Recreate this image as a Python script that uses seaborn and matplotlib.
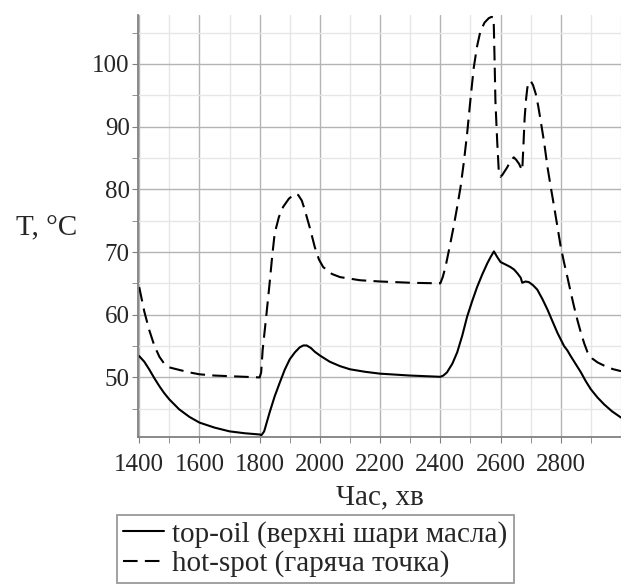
import numpy as np
import pandas as pd
import matplotlib
matplotlib.use("Agg")
import matplotlib.pyplot as plt
from matplotlib.ticker import MultipleLocator
from matplotlib.lines import Line2D
import seaborn as sns

# time, min / temperature, degC
top_oil_t = [1400, 1417, 1433, 1450, 1467, 1483, 1500, 1533, 1567, 1600, 1650, 1700,
             1750, 1800, 1806, 1815, 1833, 1850, 1867, 1883, 1900, 1917, 1933, 1945,
             1956, 1970, 1983, 2000, 2033, 2067, 2100, 2150, 2200, 2300, 2400, 2410,
             2422, 2440, 2456, 2473, 2489, 2506, 2522, 2539, 2556, 2567, 2578, 2589,
             2600, 2617, 2633, 2645, 2656, 2667, 2672, 2683, 2694, 2708, 2722, 2739,
             2756, 2772, 2789, 2811, 2822, 2833, 2850, 2867, 2883, 2900, 2922, 2944,
             2970, 3000]
top_oil_T = [53.4, 52.5, 51.3, 49.9, 48.6, 47.5, 46.5, 44.9, 43.7, 42.8, 42.0, 41.4,
             41.1, 40.9, 40.8, 41.4, 44.4, 47.0, 49.2, 51.2, 52.9, 54.0, 54.8, 55.1,
             55.1, 54.7, 54.1, 53.5, 52.5, 51.8, 51.3, 50.9, 50.6, 50.3, 50.1, 50.3,
             50.8, 52.2, 54.0, 56.7, 59.7, 62.2, 64.4, 66.4, 68.2, 69.2, 70.1, 69.2,
             68.4, 68.0, 67.6, 67.2, 66.6, 65.9, 65.1, 65.3, 65.2, 64.7, 64.0, 62.5,
             60.8, 59.0, 57.1, 55.0, 54.3, 53.4, 52.1, 50.8, 49.4, 48.1, 46.8, 45.7,
             44.6, 43.6]

hot_spot_t = [1400, 1417, 1433, 1450, 1467, 1483, 1500, 1533, 1567, 1600, 1650, 1700,
              1750, 1800, 1805, 1810, 1822, 1833, 1842, 1850, 1864, 1878, 1897, 1917,
              1928, 1940, 1950, 1967, 1983, 1997, 2011, 2040, 2067, 2133, 2200, 2300,
              2400, 2408, 2417, 2430, 2444, 2456, 2467, 2478, 2489, 2500, 2511, 2522,
              2533, 2547, 2561, 2570, 2577, 2580, 2583, 2589, 2594, 2600, 2606, 2614,
              2622, 2633, 2644, 2652, 2661, 2667, 2672, 2676, 2680, 2685, 2689, 2694,
              2700, 2708, 2717, 2725, 2733, 2745, 2756, 2767, 2778, 2789, 2800, 2811,
              2822, 2833, 2844, 2856, 2867, 2878, 2889, 2905, 2922, 2939, 2956, 2975,
              3000]
hot_spot_T = [64.4, 60.5, 57.6, 55.1, 53.3, 52.2, 51.6, 51.2, 50.8, 50.5, 50.3, 50.2,
              50.1, 50.0, 50.8, 54.4, 59.8, 65.0, 69.5, 73.0, 75.6, 77.2, 78.5, 79.3,
              79.1, 78.2, 76.7, 73.8, 70.8, 68.8, 67.6, 66.5, 66.0, 65.5, 65.3, 65.1,
              65.0, 66.0, 67.6, 70.6, 74.0, 77.2, 80.3, 84.3, 88.9, 94.3, 99.4, 102.8,
              105.2, 106.6, 107.3, 107.5, 107.4, 101.0, 94.0, 87.5, 83.0, 82.0, 82.3, 82.9,
              83.5, 84.5, 85.1, 84.7, 84.1, 83.5, 83.0, 87.0, 91.4, 94.5, 96.2, 97.0,
              97.3, 96.6, 95.2, 93.3, 91.0, 87.4, 83.5, 80.3, 77.2, 74.0, 70.8, 68.3,
              66.0, 63.6, 61.3, 59.0, 57.1, 55.4, 54.0, 53.0, 52.4, 52.0, 51.6, 51.3,
              51.0]

labels = ["top-oil (верхні шари масла)", "hot-spot (гаряча точка)"]

df = pd.concat([
    pd.DataFrame({"t": top_oil_t, "T": top_oil_T, "series": labels[0]}),
    pd.DataFrame({"t": hot_spot_t, "T": hot_spot_T, "series": labels[1]}),
])

sns.set_style("white")
plt.rcParams["font.family"] = ["Liberation Serif", "DejaVu Serif"]
fs = 18      # tick labels
fs_big = 21  # axis labels and legend

fig = plt.figure(figsize=(6.21, 5.85), dpi=100)
ax = fig.add_axes([138 / 621, 1 - 437 / 585, 1 - 138 / 621, (437 - 15) / 585])

sns.lineplot(data=df, x="t", y="T", style="series", hue="series",
             palette={labels[0]: "black", labels[1]: "black"},
             dashes={labels[0]: "", labels[1]: (7, 3.5)},
             linewidth=1.5, estimator=None, sort=False, ax=ax, legend=False)

ax.set_xlim(1396, 3000)
ax.set_ylim(40.5, 107.8)
ax.set_xticks(np.arange(1400, 2801, 200))
ax.xaxis.set_minor_locator(MultipleLocator(100))
ax.set_yticks(np.arange(50, 101, 10))
ax.yaxis.set_minor_locator(MultipleLocator(5))
ax.grid(which="major", color="#b4b4b4", linewidth=1.0)
ax.grid(which="minor", color="#e6e6e6", linewidth=1.0)
ax.set_axisbelow(True)
for s in ["top", "right"]:
    ax.spines[s].set_visible(False)
for s in ["left", "bottom"]:
    ax.spines[s].set_color("#808080")
    ax.spines[s].set_linewidth(1.3)
ax.tick_params(which="both", direction="out", length=4, color="#808080",
               bottom=True, left=True, labelsize=fs)
ax.tick_params(axis="y", which="major", pad=2)
ax.tick_params(axis="x", which="major", pad=8)

ax.set_xlabel("Час, хв", fontsize=fs_big, labelpad=6)
ax.set_ylabel("T, °C", fontsize=fs_big, rotation=0, ha="center", va="center")
ax.yaxis.set_label_coords(-0.19, 0.495)

handles = [Line2D([], [], color="black", lw=1.5),
           Line2D([], [], color="black", lw=1.5, dashes=(7, 3.5))]
leg = fig.legend(handles, labels, loc="upper left",
                 bbox_to_anchor=(117 / 621, 1 - 515 / 585), fontsize=fs_big,
                 frameon=True, fancybox=False, edgecolor="#808080",
                 handlelength=1.4, handletextpad=0.3, borderpad=0.2,
                 labelspacing=0.08, borderaxespad=0)
leg.get_frame().set_linewidth(1.3)

fig.savefig("out.png", dpi=100)
